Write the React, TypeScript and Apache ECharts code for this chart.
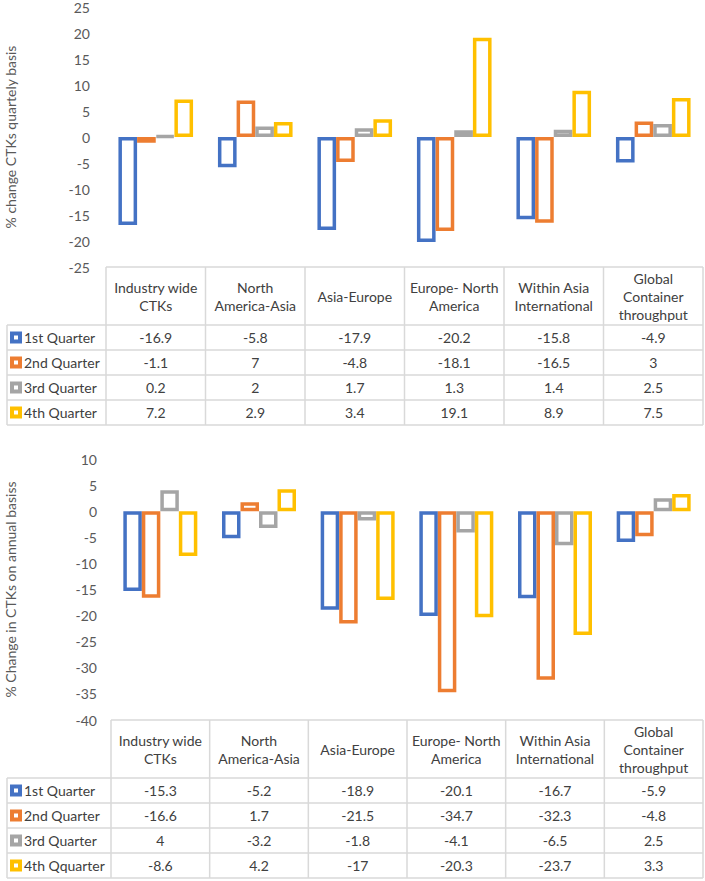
import React, { useEffect, useRef } from "react";
import * as echarts from "echarts";

const categories = [
  "Industry wide\nCTKs",
  "North\nAmerica-Asia",
  "Asia-Europe",
  "Europe- North\nAmerica",
  "Within Asia\nInternational",
  "Global\nContainer\nthroughput",
];

const quarterlyNames = ["1st Quarter", "2nd Quarter", "3rd Quarter", "4th Quarter"];
const quarterlyQ1 = [-16.9, -5.8, -17.9, -20.2, -15.8, -4.9];
const quarterlyQ2 = [-1.1, 7, -4.8, -18.1, -16.5, 3];
const quarterlyQ3 = [0.2, 2, 1.7, 1.3, 1.4, 2.5];
const quarterlyQ4 = [7.2, 2.9, 3.4, 19.1, 8.9, 7.5];

const annualNames = ["1st Quarter", "2nd Quarter", "3rd Quarter", "4th Qquarter"];
const annualQ1 = [-15.3, -5.2, -18.9, -20.1, -16.7, -5.9];
const annualQ2 = [-16.6, 1.7, -21.5, -34.7, -32.3, -4.8];
const annualQ3 = [4, -3.2, -1.8, -4.1, -6.5, 2.5];
const annualQ4 = [-8.6, 4.2, -17, -20.3, -23.7, 3.3];

const quarterlyTitle = "% change CTKs quartely basis";
const annualTitle = "% Change in CTKs on annual basiss";

const COLORS = ["#4472C4", "#ED7D31", "#A5A5A5", "#FFC000"];
const FONT = "Lato";
const TEXT = "#404040";
const AXIS_TEXT = "#595959";
const BORDER = "#D9D9D9";

type TableCfg = {
  legendLeft: number;
  colLeft: number;
  colRight: number;
  headerTop: number;
  headerBottom: number;
  rowH: number;
};

function buildTable(cfg: TableCfg, names: string[], data: number[][]) {
  const els: any[] = [];
  const n = categories.length;
  const colW = (cfg.colRight - cfg.colLeft) / n;
  const edges = Array.from({ length: n + 1 }, (_, i) => cfg.colLeft + i * colW);
  const bottom = cfg.headerBottom + cfg.rowH * names.length;
  const line = (x1: number, y1: number, x2: number, y2: number) => ({
    type: "line",
    shape: { x1, y1, x2, y2 },
    style: { stroke: BORDER, lineWidth: 1.5 },
    silent: true,
    z: 100,
  });
  els.push(line(cfg.colLeft, cfg.headerTop, cfg.colRight, cfg.headerTop));
  for (let r = 0; r <= names.length; r++) {
    const y = cfg.headerBottom + r * cfg.rowH;
    els.push(line(cfg.legendLeft, y, cfg.colRight, y));
  }
  els.push(line(cfg.legendLeft, cfg.headerBottom, cfg.legendLeft, bottom));
  edges.forEach((x) => els.push(line(x, cfg.headerTop, x, bottom)));
  // header texts
  categories.forEach((c, i) => {
    els.push({
      type: "text",
      x: (edges[i] + edges[i + 1]) / 2,
      y: (cfg.headerTop + cfg.headerBottom) / 2,
      z: 101,
      style: {
        text: c,
        align: "center",
        verticalAlign: "middle",
        fontSize: 14,
        lineHeight: 18,
        fontFamily: FONT,
        fill: TEXT,
      },
    });
  });
  names.forEach((nm, r) => {
    const cy = cfg.headerBottom + r * cfg.rowH + cfg.rowH / 2;
    els.push({
      type: "rect",
      shape: { x: cfg.legendLeft + 3, y: cy - 6, width: 12, height: 12 },
      style: { fill: COLORS[r] },
      z: 101,
    });
    els.push({
      type: "rect",
      shape: { x: cfg.legendLeft + 7, y: cy - 2, width: 4, height: 4 },
      style: { fill: "#ffffff" },
      z: 102,
    });
    els.push({
      type: "text",
      x: cfg.legendLeft + 17,
      y: cy,
      z: 101,
      style: {
        text: nm,
        align: "left",
        verticalAlign: "middle",
        fontSize: 14,
        fontFamily: FONT,
        fill: TEXT,
      },
    });
    data[r].forEach((v, i) => {
      els.push({
        type: "text",
        x: (edges[i] + edges[i + 1]) / 2,
        y: cy,
        z: 101,
        style: {
          text: String(v),
          align: "center",
          verticalAlign: "middle",
          fontSize: 14,
          fontFamily: FONT,
          fill: TEXT,
        },
      });
    });
  });
  return els;
}

export default function App() {
  const ref = useRef<HTMLDivElement>(null);
  useEffect(() => {
    if (!ref.current) return;
    const chart = echarts.init(ref.current, null, { renderer: "svg" });
    const grids = [
      { left: 106, top: 7, width: 597, height: 260 },
      { left: 111, top: 459, width: 592, height: 261 },
    ];
    const quarterly = [quarterlyQ1, quarterlyQ2, quarterlyQ3, quarterlyQ4];
    const annual = [annualQ1, annualQ2, annualQ3, annualQ4];
    const mkSeries = (names: string[], data: number[][], idx: number) =>
      names.map((nm, i) => ({
        name: nm,
        type: "bar",
        xAxisIndex: idx,
        yAxisIndex: idx,
        data: data[i],
        barGap: "0%",
        barCategoryGap: "25%",
        itemStyle: {
          color: "rgba(255,255,255,0)",
          borderColor: COLORS[i],
          borderWidth: 3.5,
        },
      }));
    const yAxisCommon = {
      type: "value",
      axisLine: { show: false },
      axisTick: { show: false },
      splitLine: { show: false },
      axisLabel: { color: AXIS_TEXT, fontSize: 14, fontFamily: FONT },
    };
    const xAxisCommon = {
      type: "category",
      data: categories,
      axisLine: { show: false },
      axisTick: { show: false },
      axisLabel: { show: false },
      splitLine: { show: false },
    };
    chart.setOption({
      animation: false,
      backgroundColor: "#ffffff",
      grid: grids.map((g) => ({ ...g, containLabel: false })),
      xAxis: [
        { ...xAxisCommon, gridIndex: 0 },
        { ...xAxisCommon, gridIndex: 1 },
      ],
      yAxis: [
        { ...yAxisCommon, gridIndex: 0, min: -25, max: 25, interval: 5, axisLabel: { ...yAxisCommon.axisLabel, margin: 16 } },
        { ...yAxisCommon, gridIndex: 1, min: -40, max: 10, interval: 5, axisLabel: { ...yAxisCommon.axisLabel, margin: 14 } },
      ],
      series: [...mkSeries(quarterlyNames, quarterly, 0), ...mkSeries(annualNames, annual, 1)],
      graphic: [
        {
          type: "text",
          x: 10,
          y: grids[0].top + grids[0].height / 2,
          rotation: Math.PI / 2,
          style: {
            text: quarterlyTitle,
            align: "center",
            verticalAlign: "middle",
            fontSize: 14,
            fontFamily: FONT,
            fill: AXIS_TEXT,
          },
        },
        {
          type: "text",
          x: 10,
          y: grids[1].top + grids[1].height / 2,
          rotation: Math.PI / 2,
          style: {
            text: annualTitle,
            align: "center",
            verticalAlign: "middle",
            fontSize: 14,
            fontFamily: FONT,
            fill: AXIS_TEXT,
          },
        },
        ...buildTable(
          { legendLeft: 7, colLeft: 106, colRight: 703, headerTop: 267, headerBottom: 325, rowH: 25 },
          quarterlyNames,
          quarterly
        ),
        ...buildTable(
          { legendLeft: 7, colLeft: 111, colRight: 703, headerTop: 720, headerBottom: 778, rowH: 25 },
          annualNames,
          annual
        ),
      ],
    });
    return () => chart.dispose();
  }, []);
  return (
    <div
      ref={ref}
      style={{ position: "absolute", left: 0, top: 0, width: 705, height: 881 }}
    />
  );
}
